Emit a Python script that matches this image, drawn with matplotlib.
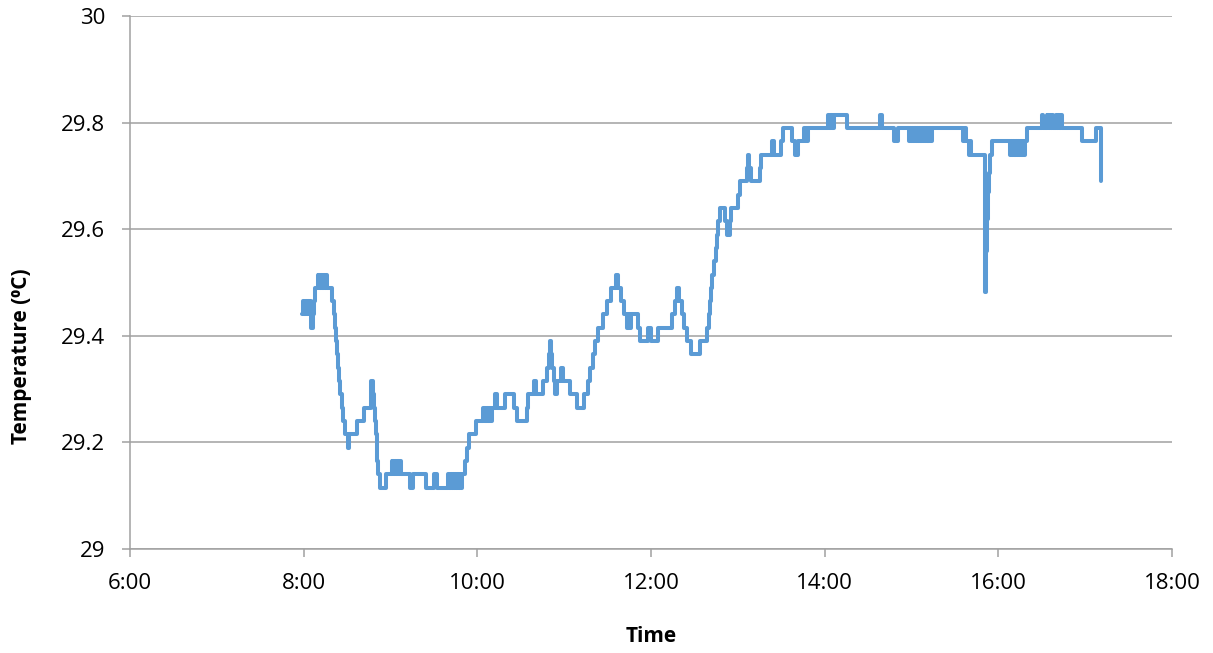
import matplotlib
matplotlib.use("Agg")
import matplotlib.pyplot as plt
import numpy as np

plt.rcParams["font.family"] = ["Open Sans", "DejaVu Sans"]

# Logger readings: (minutes after midnight, temperature in degC).
# Each value holds until the next reading.
morning = [
    (479.0, 29.44), (479.5, 29.465), (480.1, 29.44), (480.6, 29.465), (481.2, 29.44),
    (481.8, 29.465), (482.5, 29.44), (483.1, 29.465), (483.8, 29.44), (484.4, 29.465),
    (485.0, 29.44), (485.4, 29.415), (486.4, 29.44), (487.3, 29.465), (488.0, 29.49),
    (489.6, 29.515), (490.3, 29.49), (490.9, 29.515), (491.6, 29.49), (492.3, 29.515),
    (493.0, 29.49), (493.8, 29.515), (494.6, 29.49), (495.4, 29.515), (496.4, 29.49),
    (499.8, 29.465), (500.7, 29.44), (501.5, 29.415), (502.3, 29.39), (503.1, 29.365),
    (503.8, 29.34), (504.5, 29.315), (505.2, 29.29), (506.3, 29.265), (507.5, 29.24),
    (508.6, 29.215), (510.5, 29.19), (511.3, 29.215), (516.7, 29.24), (521.6, 29.265),
    (526.2, 29.29), (526.8, 29.315), (527.8, 29.29), (528.5, 29.265), (529.2, 29.24),
    (529.8, 29.215), (530.4, 29.19), (531.0, 29.165), (531.6, 29.14), (532.6, 29.115),
    (536.6, 29.14), (540.8, 29.165), (541.4, 29.14), (542.0, 29.165), (542.7, 29.14),
    (543.4, 29.165), (544.1, 29.14), (544.8, 29.165), (545.6, 29.14), (546.4, 29.165),
    (547.2, 29.14), (553.6, 29.115), (555.4, 29.14), (564.2, 29.115), (570.0, 29.14),
    (571.8, 29.115), (580.0, 29.14), (580.7, 29.115), (581.5, 29.14), (582.3, 29.115),
    (583.0, 29.14), (583.8, 29.115), (584.6, 29.14), (585.4, 29.115), (586.2, 29.14),
    (587.0, 29.115), (587.8, 29.14), (588.6, 29.115), (589.4, 29.14), (591.3, 29.165),
    (592.8, 29.19), (594.2, 29.215),
]

midday = [
    (598.8, 29.24), (604.1, 29.265), (605.2, 29.24), (606.4, 29.265), (607.4, 29.24),
    (608.2, 29.265), (609.0, 29.24), (609.9, 29.265), (612.2, 29.29), (613.3, 29.265),
    (619.1, 29.29), (625.5, 29.265), (627.6, 29.24), (634.1, 29.265), (635.2, 29.29),
    (639.0, 29.315), (640.5, 29.29), (645.1, 29.315), (648.3, 29.34), (649.4, 29.365),
    (649.9, 29.39), (651.0, 29.365), (651.6, 29.34), (653.2, 29.315), (653.8, 29.29),
    (654.8, 29.315), (658.0, 29.34), (659.4, 29.315), (664.0, 29.29), (669.1, 29.265),
    (674.0, 29.29), (676.5, 29.315), (677.8, 29.34), (680.1, 29.365), (681.3, 29.39),
    (683.6, 29.415), (687.0, 29.44), (689.3, 29.465), (692.5, 29.49), (695.8, 29.515),
    (697.0, 29.49), (699.0, 29.465), (701.5, 29.44), (703.6, 29.415), (704.6, 29.44),
    (705.2, 29.415), (706.2, 29.44), (711.0, 29.415), (712.4, 29.39), (717.6, 29.415),
    (719.9, 29.39), (724.6, 29.415), (734.5, 29.44), (736.8, 29.465), (738.2, 29.49),
    (739.6, 29.465), (741.4, 29.44), (743.0, 29.415), (745.0, 29.39), (747.6, 29.365),
    (753.6, 29.39), (758.8, 29.415), (759.8, 29.44), (760.6, 29.465), (761.2, 29.49),
    (762.4, 29.515), (763.6, 29.54), (764.8, 29.565), (765.6, 29.59), (766.3, 29.615),
    (767.4, 29.64), (771.4, 29.615), (772.8, 29.59), (774.4, 29.615), (775.4, 29.64),
    (780.4, 29.665), (781.6, 29.69), (786.4, 29.715), (786.9, 29.74), (787.9, 29.715),
    (789.0, 29.69), (795.4, 29.715), (796.2, 29.74), (803.6, 29.765), (804.9, 29.74),
    (809.6, 29.765), (811.0, 29.79), (817.6, 29.765), (819.6, 29.74), (821.8, 29.765),
    (825.5, 29.79), (826.2, 29.765), (827.0, 29.79), (827.8, 29.765), (828.6, 29.79),
]

afternoon = [
    (842.0, 29.815), (843.1, 29.79), (844.3, 29.815), (845.4, 29.79), (846.6, 29.815),
    (855.6, 29.79), (878.3, 29.815), (879.3, 29.79), (888.2, 29.765), (891.0, 29.79),
    (898.5, 29.765), (899.1, 29.79), (899.7, 29.765), (900.3, 29.79), (900.9, 29.765),
    (901.5, 29.79), (902.1, 29.765), (902.7, 29.79), (903.3, 29.765), (903.9, 29.79),
    (904.5, 29.765), (905.1, 29.79), (905.7, 29.765), (906.3, 29.79), (906.9, 29.765),
    (907.5, 29.79), (908.1, 29.765), (908.7, 29.79), (909.3, 29.765), (909.9, 29.79),
    (910.5, 29.765), (911.1, 29.79), (911.7, 29.765), (912.3, 29.79), (912.9, 29.765),
    (913.9, 29.79), (935.8, 29.765), (936.8, 29.79), (937.4, 29.765), (939.4, 29.74),
    (940.2, 29.765), (940.8, 29.74), (951.0, 29.483), (951.6, 29.56), (952.0, 29.62),
    (952.6, 29.67), (953.3, 29.705), (954.2, 29.74), (955.8, 29.765), (968.2, 29.74),
    (968.8, 29.765), (969.4, 29.74), (970.0, 29.765), (970.6, 29.74), (971.2, 29.765),
    (971.8, 29.74), (972.4, 29.765), (973.0, 29.74), (973.6, 29.765), (974.2, 29.74),
    (974.8, 29.765), (975.4, 29.74), (976.0, 29.765), (976.6, 29.74), (977.2, 29.765),
    (977.8, 29.74), (978.4, 29.765), (979.6, 29.79), (990.4, 29.815), (991.0, 29.79),
    (993.4, 29.815), (994.0, 29.79), (994.6, 29.815), (995.2, 29.79), (995.8, 29.815),
    (996.4, 29.79), (997.0, 29.815), (997.8, 29.79), (999.9, 29.815), (1000.5, 29.79),
    (1001.0, 29.815), (1001.6, 29.79), (1003.3, 29.815), (1004.3, 29.79), (1017.6, 29.765),
    (1027.2, 29.79), (1031.0, 29.69),
]

x_ticks = [6, 8, 10, 12, 14, 16, 18]
y_ticks = [29, 29.2, 29.4, 29.6, 29.8, 30]

readings = np.array(morning + midday + afternoon)
hours = readings[:, 0] / 60.0
temps = readings[:, 1]

W, H = 1213, 653
fig = plt.figure(figsize=(W / 100, H / 100), dpi=100)
ax = fig.add_axes([130 / W, 104 / H, 1042 / W, 533 / H])

ax.plot(hours, temps, drawstyle="steps-post", color="#5B9BD5", lw=2.9,
        solid_joinstyle="round", solid_capstyle="round")

grey = "#a0a0a0"
ax.set_xlim(6, 18)
ax.set_ylim(29, 30)
ax.set_xticks(x_ticks)
ax.set_xticklabels([f"{h}:00" for h in x_ticks])
ax.set_yticks(y_ticks)
ax.set_yticklabels([f"{v:g}" for v in y_ticks])
ax.yaxis.grid(True, color=grey, lw=1.1)
ax.set_axisbelow(True)

for side in ("top", "right"):
    ax.spines[side].set_visible(False)
for side in ("left", "bottom"):
    ax.spines[side].set_color(grey)
    ax.spines[side].set_linewidth(1.1)

ax.tick_params(axis="both", direction="out", length=6, width=1.1, color=grey,
               labelsize=16, labelcolor="black")
ax.tick_params(axis="y", pad=12)
ax.tick_params(axis="x", pad=11)

fig.text(22 / W, 1 - 356 / H, "Temperature (\u2070C)", rotation=90, fontsize=15,
         fontweight="bold", ha="center", va="center")
fig.text(651 / W, 1 - 636 / H, "Time", fontsize=15, fontweight="bold",
         ha="center", va="center")

fig.savefig("out.png", dpi=100, facecolor="white")
